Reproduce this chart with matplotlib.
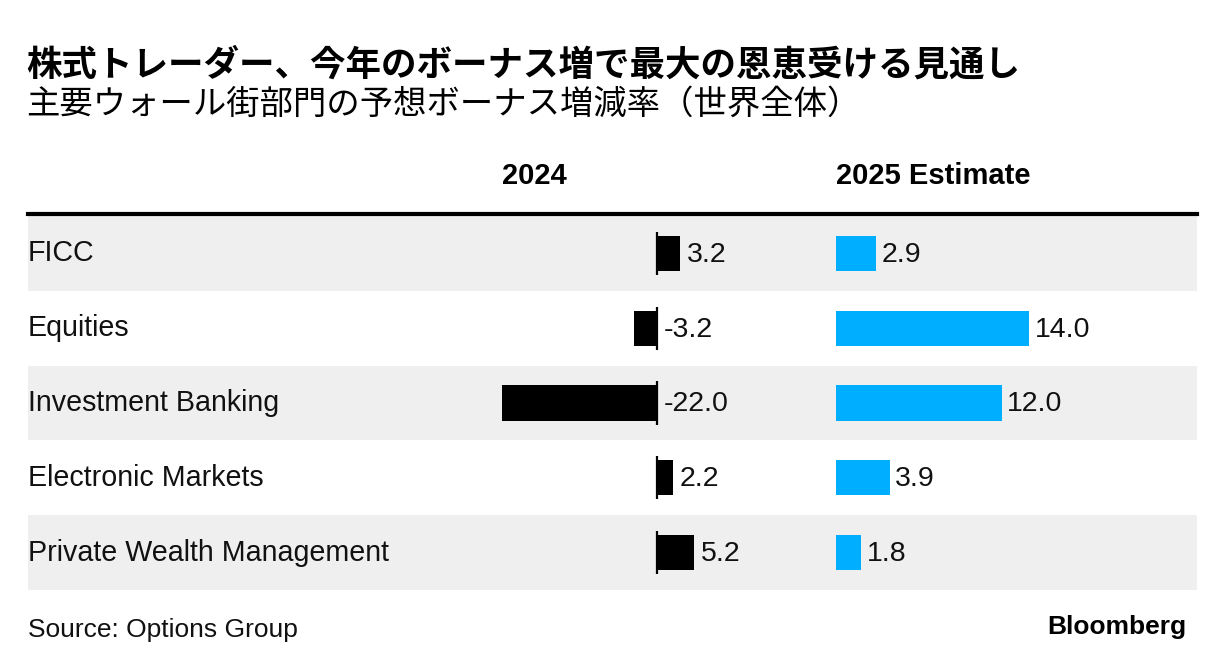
import matplotlib.pyplot as plt

plt.rcParams['font.family'] = ['Liberation Sans', 'Noto Sans CJK JP', 'DejaVu Sans']

# データ
categories = ["FICC", "Equities", "Investment Banking", "Electronic Markets",
              "Private Wealth Management"]
values_2024 = [3.2, -3.2, -22.0, 2.2, 5.2]
values_2025 = [2.9, 14.0, 12.0, 3.9, 1.8]
col_headers = ["2024", "2025 Estimate"]

title = "株式トレーダー、今年のボーナス増で最大の恩恵受ける見通し"
subtitle = "主要ウォール街部門の予想ボーナス増減率（世界全体）"
source = "Source: Options Group"

W, H = 1225, 670
GREY = "#efefef"
BLUE = "#00aeff"


def fx(px):
    return px / W


def fy(py):
    return 1 - py / H


fig = plt.figure(figsize=(W / 100, H / 100), dpi=100)

# 行の背景
row_top, row_bot = 216, 590
n = len(categories)
bg = fig.add_axes([fx(28), fy(row_bot), fx(1197 - 28), fy(row_top) - fy(row_bot)])
bg.set_xlim(0, 1)
bg.set_ylim(n - 0.5, -0.5)
for i in range(n):
    if i % 2 == 0:
        bg.axhspan(i - 0.5, i + 0.5, color=GREY, lw=0)
    bg.text(0, i, categories[i], fontsize=20.6, va="center", ha="left", color="#111111")
bg.axis("off")

# 2024 列
left1, right1, zero1, ppu1 = 480, 800, 657, 7.05
ax1 = fig.add_axes([fx(left1), fy(row_bot), fx(right1 - left1), fy(row_top) - fy(row_bot)])
ax1.set_xlim(-(zero1 - left1) / ppu1, (right1 - zero1) / ppu1)
ax1.set_ylim(n - 0.5, -0.5)
ypos = list(range(n))
ax1.barh(ypos, values_2024, height=0.47, color="black")
for y in ypos:
    ax1.vlines(0, y - 0.29, y + 0.29, color="black", lw=1.6)
for y, v in zip(ypos, values_2024):
    x = max(v, 0)
    ax1.annotate(f"{v:.1f}", (x, y), xytext=(5, -1), textcoords="offset points",
                 fontsize=20.5, va="center", ha="left", color="#111111")
ax1.axis("off")

# 2025 列
left2, right2, ppu2 = 836, 1197, 13.8
ax2 = fig.add_axes([fx(left2), fy(row_bot), fx(right2 - left2), fy(row_top) - fy(row_bot)])
ax2.set_xlim(0, (right2 - left2) / ppu2)
ax2.set_ylim(n - 0.5, -0.5)
ax2.barh(ypos, values_2025, height=0.47, color=BLUE)
for y, v in zip(ypos, values_2025):
    ax2.annotate(f"{v:.1f}", (v, y), xytext=(4, -1), textcoords="offset points",
                 fontsize=20.5, va="center", ha="left", color="#111111")
ax2.axis("off")

# 見出し
fig.text(fx(502), fy(176), col_headers[0], fontsize=21, fontweight="bold", va="center")
fig.text(fx(836), fy(176), col_headers[1], fontsize=21, fontweight="bold", va="center")
fig.add_artist(plt.Line2D([fx(28), fx(1197)], [fy(214), fy(214)], color="black", lw=3))

# タイトル
fig.text(fx(26), fy(65), title, fontsize=25.6, fontweight="bold", va="center",
         family=["Noto Sans CJK JP", "DejaVu Sans"])
fig.text(fx(26), fy(104), subtitle, fontsize=24, va="center",
         family=["Noto Sans CJK JP", "DejaVu Sans"])

# 出典とロゴ
fig.text(fx(28), fy(630), source, fontsize=19, va="center", color="#111111")
fig.text(fx(1186), fy(627), "Bloomberg", fontsize=19, fontweight="bold", va="center",
         ha="right")

fig.savefig("out.png", dpi=100)
